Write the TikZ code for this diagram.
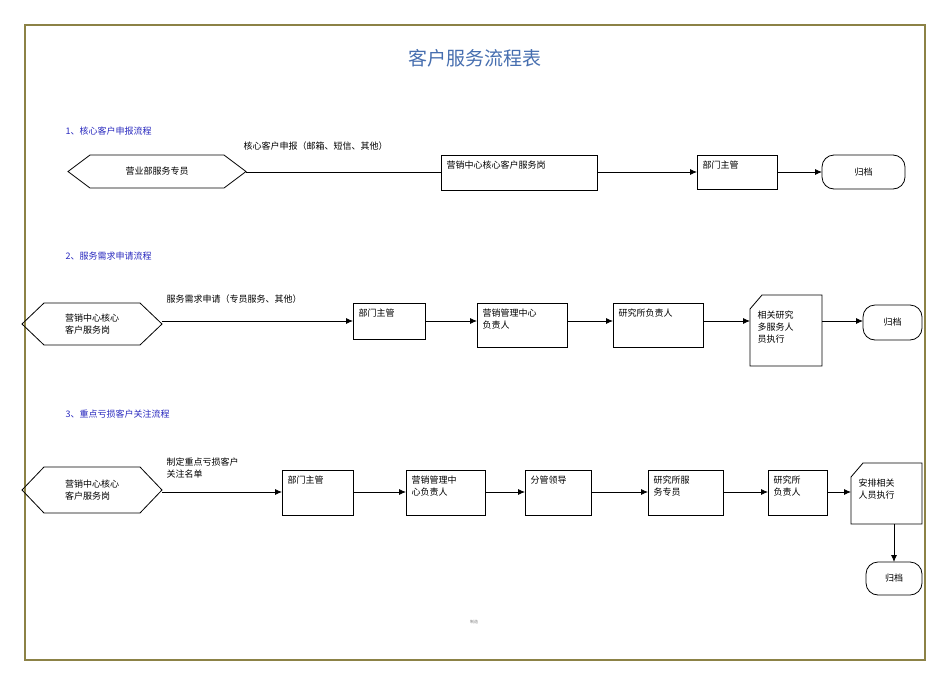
\documentclass[tikz,border=0pt]{standalone}
\usepackage{fontspec}
\setmainfont{Noto Sans CJK SC}
\usetikzlibrary{arrows.meta,shapes.misc}
\definecolor{ttl}{RGB}{70,110,175}
\definecolor{sc}{RGB}{40,40,190}
\definecolor{frm}{RGB}{140,130,70}
\tikzset{
 arr/.style={thick,-{Latex[length=7pt,width=6pt]}},
 sec/.style={text=sc,font=\fontsize{9}{11}\selectfont,anchor=west},
 lbl/.style={font=\fontsize{9}{12}\selectfont,anchor=south west,align=left},
 txt/.style={font=\fontsize{9}{12}\selectfont,align=left}
}
\newcommand{\hexa}[6]{% name, x1, x2, ytop, ybot, text
 \draw[thick] (#2,{(#4+#5)/2}) -- (#2+22,#4) -- (#3-22,#4) -- (#3,{(#4+#5)/2}) -- (#3-22,#5) -- (#2+22,#5) -- cycle;
 \coordinate (#1) at ({(#2+#3)/2},{(#4+#5)/2});
 \coordinate (#1e) at (#3,{(#4+#5)/2});
 \node[txt] at (#1) {#6};}
\newcommand{\rect}[6]{%
 \draw[thick] (#2,#4) rectangle (#3,#5);
 \coordinate (#1w) at (#2,{(#4+#5)/2});\coordinate (#1e) at (#3,{(#4+#5)/2});
 \node[txt,anchor=north west] at (#2+2,#4+2) {#6};}
\newcommand{\card}[6]{%
 \draw[thick] (#2+12,#4) -- (#3,#4) -- (#3,#5) -- (#2,#5) -- (#2,#4+14) -- cycle;
 \coordinate (#1w) at (#2,{(#4+#5)/2});\coordinate (#1e) at (#3,{(#4+#5)/2});
 \coordinate (#1s) at ({(#2+#3)/2},#5);
 \node[txt,anchor=north west] at (#2+4,#4+12) {#6};}
\newcommand{\term}[6]{%
 \draw[thick,rounded corners=12pt] (#2,#4) rectangle (#3,#5);
 \coordinate (#1w) at (#2,{(#4+#5)/2});\coordinate (#1n) at ({(#2+#3)/2},#4);
 \node[txt] at ({(#2+#3)/2},{(#4+#5)/2}) {#6};}
\begin{document}
\begin{tikzpicture}[x=1pt,y=-1pt]
\useasboundingbox (0,0) rectangle (950,672);
\draw[frm,line width=1.5pt] (25,25) rectangle (925,660);
\node[text=ttl,font=\fontsize{19}{22}\selectfont] (title) at (475,58) {客户服务流程表};
% row1
\node[sec] (s1) at (62,131) {1、核心客户申报流程};
\hexa{a1}{68}{246}{155}{188}{营业部服务专员}
\rect{a2}{441}{597}{155}{190}{营销中心核心客户服务岗}
\rect{a3}{697}{777}{155}{189}{部门主管}
\term{a4}{822}{905}{155}{189}{归档}
\coordinate (r1) at (0,172);
\draw[thick] (a1e |- r1) -- (a2w |- r1);
\node[lbl] (l1) at (240,154) {核心客户申报（邮箱、短信、其他）};
\draw[arr] (a2e |- r1) -- (a3w |- r1);
\draw[arr] (a3e |- r1) -- (a4w |- r1);
% row2
\node[sec] (s2) at (62,256) {2、服务需求申请流程};
\hexa{b1}{22}{162}{303}{345}{营销中心核心\\客户服务岗}
\rect{b2}{353}{425}{303}{339}{部门主管}
\rect{b3}{477}{567}{303}{347}{营销管理中心\\负责人}
\rect{b4}{613}{703}{303}{347}{研究所负责人}
\card{b5}{750}{822}{295}{366}{相关研究\\多服务人\\员执行}
\term{b6}{863}{922}{305}{340}{归档}
\coordinate (r2) at (0,321);
\draw[arr] (b1e |- r2) -- (b2w |- r2);
\node[lbl] (l2) at (163,307) {服务需求申请（专员服务、其他）};
\draw[arr] (b2e |- r2) -- (b3w |- r2);
\draw[arr] (b3e |- r2) -- (b4w |- r2);
\draw[arr] (b4e |- r2) -- (b5w |- r2);
\draw[arr] (b5e |- r2) -- (b6w |- r2);
% row3
\node[sec] (s3) at (62,414) {3、重点亏损客户关注流程};
\hexa{c1}{22}{162}{467}{513}{营销中心核心\\客户服务岗}
\rect{c2}{282}{353}{470}{515}{部门主管}
\rect{c3}{406}{485}{470}{515}{营销管理中\\心负责人}
\rect{c4}{525}{591}{470}{515}{分管领导}
\rect{c5}{648}{723}{470}{515}{研究所服\\务专员}
\rect{c6}{768}{827}{470}{515}{研究所\\负责人}
\card{c7}{851}{922}{463}{524}{安排相关\\人员执行}
\term{c8}{866}{922}{562}{595}{归档}
\coordinate (r3) at (0,492);
\draw[arr] (c1e |- r3) -- (c2w |- r3);
\node[lbl] (l3) at (163,482) {制定重点亏损客户\\关注名单};
\draw[arr] (c2e |- r3) -- (c3w |- r3);
\draw[arr] (c3e |- r3) -- (c4w |- r3);
\draw[arr] (c4e |- r3) -- (c5w |- r3);
\draw[arr] (c5e |- r3) -- (c6w |- r3);
\draw[arr] (c6e |- r3) -- (c7w |- r3);
\draw[arr] (c8n |- c7s) -- (c8n);
\node[font=\fontsize{4}{5}\selectfont,text=gray] (ft) at (474,622) {制造};
\end{tikzpicture}
\end{document}
